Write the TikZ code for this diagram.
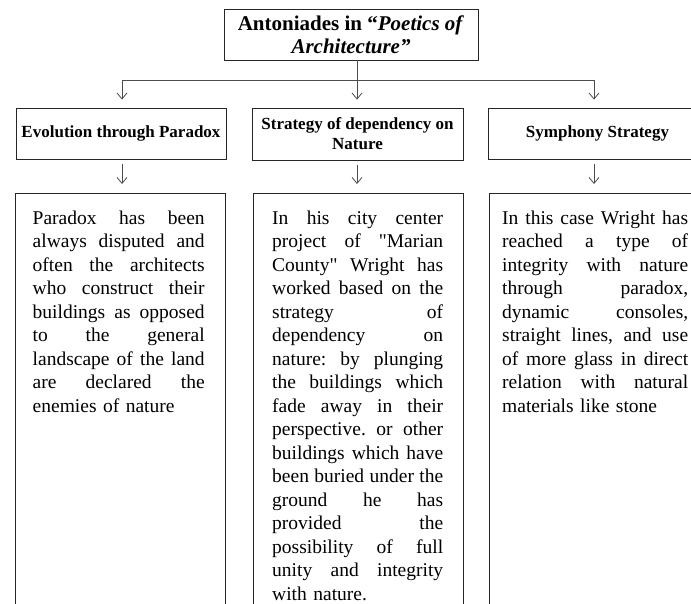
\documentclass[tikz,border=0pt]{standalone}
\usepackage{fontspec}
\setmainfont{Liberation Serif}
\usetikzlibrary{arrows.meta}
\newcommand\jl[1]{\par\noindent\hbox to\hsize{\strut#1}\par}
\newcommand\jq{\textquotedbl}
\tikzset{
  box/.style={draw=black!85, line width=0.8pt, rectangle, inner sep=0pt},
  conn/.style={draw=black!70, line width=0.8pt},
  arr/.style={conn, -{Straight Barb[length=6pt,width=10pt,line width=0.8pt]}},
  titlefont/.style={font=\fontsize{21}{23}\selectfont\bfseries},
  subfont/.style={font=\fontsize{17}{20}\selectfont\bfseries},
  bodytext/.style={inner sep=0pt, anchor=north west,
    font=\fontsize{19.5}{23.5}\selectfont},
}
\begin{document}
\begin{tikzpicture}[x=1pt,y=-1pt]
\useasboundingbox (0,0) rectangle (691,604);
\clip (0,0) rectangle (691,604);
% title
\node[box, titlefont, align=center, minimum width=254pt, minimum height=51pt] (title) at (351,34.5)
  {Antoniades in “\textit{Poetics of}\\\textit{Architecture”}};
% bar coordinates
\coordinate (bL) at (122,80);
\coordinate (bM) at (357,80);
\coordinate (bR) at (594,80);
% sub headings
\node[box, subfont, align=center, minimum width=210pt, minimum height=51pt] (subA) at (121,133.5) {Evolution through Paradox};
\node[box, subfont, align=center, minimum width=211pt, minimum height=52pt] (subB) at (357.5,134) {Strategy of dependency on\\Nature};
\node[box, subfont, align=center, minimum width=219pt, minimum height=51pt] (subC) at (597.5,133.5) {Symphony Strategy};
% text boxes
\node[box, anchor=north west, minimum width=210pt, minimum height=440pt] (txA) at (15,193) {};
\node[box, anchor=north west, minimum width=210pt, minimum height=440pt] (txB) at (253,193) {};
\node[box, anchor=north west, minimum width=219pt, minimum height=440pt] (txC) at (489,193) {};
\node[bodytext, text width=172pt] (pA) at (32.5,200.5) {%
\jl{Paradox\hfill has\hfill been}%
\jl{always\hfill disputed\hfill and}%
\jl{often\hfill the\hfill architects}%
\jl{who\hfill construct\hfill their}%
\jl{buildings\hfill as\hfill opposed}%
\jl{to\hfill the\hfill general}%
\jl{landscape\hfill of\hfill the\hfill land}%
\jl{are\hfill declared\hfill the}%
\jl{enemies of nature\hfil}};
\node[bodytext, text width=171pt] (pB) at (272,200.5) {%
\jl{In\hfill his\hfill city\hfill center}%
\jl{project\hfill of\hfill \jq Marian}%
\jl{County\jq\hfill Wright\hfill has}%
\jl{worked\hfill based\hfill on\hfill the}%
\jl{strategy\hfill of}%
\jl{dependency\hfill on}%
\jl{nature:\hfill by\hfill plunging}%
\jl{the\hfill buildings\hfill which}%
\jl{fade\hfill away\hfill in\hfill their}%
\jl{perspective.\hfill or\hfill other}%
\jl{buildings\hfill which\hfill have}%
\jl{been\hfill buried\hfill under\hfill the}%
\jl{ground\hfill he\hfill has}%
\jl{provided\hfill the}%
\jl{possibility\hfill of\hfill full}%
\jl{unity\hfill and\hfill integrity}%
\jl{with nature.\hfil}};
\node[bodytext, text width=186pt] (pC) at (502,200.5) {%
\jl{In\hfill this\hfill case\hfill Wright\hfill has}%
\jl{reached\hfill a\hfill type\hfill of}%
\jl{integrity\hfill with\hfill nature}%
\jl{through\hfill paradox,}%
\jl{dynamic\hfill consoles,}%
\jl{straight\hfill lines,\hfill and\hfill use}%
\jl{of\hfill more\hfill glass\hfill in\hfill direct}%
\jl{relation\hfill with\hfill natural}%
\jl{materials like stone\hfil}};
% connectors
\draw[conn] (title.south -| bM) -- (bM);
\draw[conn] (bL) -- (bR);
\draw[arr, shorten >=8pt] (bL) -- (subA.north -| bL);
\draw[arr, shorten >=8pt] (bM) -- (subB.north -| bM);
\draw[arr, shorten >=8pt] (bR) -- (subC.north -| bR);
\draw[arr, shorten <=5pt, shorten >=9pt] (subA.south -| bL) -- (txA.north -| bL);
\draw[arr, shorten <=5pt, shorten >=9pt] (subB.south -| bM) -- (txB.north -| bM);
\draw[arr, shorten <=5pt, shorten >=9pt] (subC.south -| bR) -- (txC.north -| bR);
\end{tikzpicture}
\end{document}
